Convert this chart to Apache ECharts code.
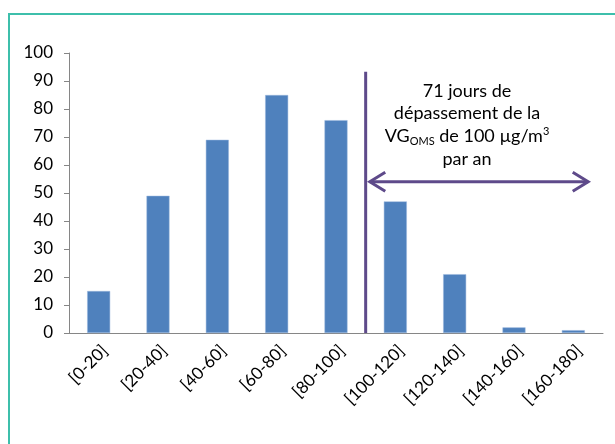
<!DOCTYPE html>
<html>
<head>
<meta charset="utf-8">
<script src="https://cdn.jsdelivr.net/npm/echarts@6/dist/echarts.min.js"></script>
<style>
html,body{margin:0;padding:0;background:#fff;}
#chart{width:615px;height:444px;}
</style>
</head>
<body>
<div id="chart"></div>
<script>
// ---- data ----
const categories = ['[0-20]','[20-40]','[40-60]','[60-80]','[80-100]','[100-120]','[120-140]','[140-160]','[160-180]'];
const days = [15, 49, 69, 85, 76, 47, 21, 2, 1];
const yTicks = [0, 100, 10]; // min, max, interval
// annotation (in category-slot units on a helper axis, and y values)
const thresholdSlot = 5;      // boundary between [80-100] and [100-120]
const thresholdTop = 93.3;
const arrowY = 54;
const arrowFrom = 5.07;
const arrowTo = 8.75;
const annotationLines = ['71 jours de', 'dépassement de la', 'VG', 'OMS', ' de 100 µg/m', '3', 'par an'];

const font = 'Lato, "Liberation Sans", sans-serif';
const purple = '#5E4A8A';
const hx = 0.26, hy = 3.4; // arrow head size in axis units

const chart = echarts.init(document.getElementById('chart'), null, {renderer: 'canvas'});
chart.setOption({
  animation: false,
  textStyle: {fontFamily: font},
  grid: {left: 69, right: 12, top: 53, bottom: 111, containLabel: false},
  xAxis: [{
    type: 'category',
    data: categories,
    axisLine: {lineStyle: {color: '#868686', width: 1}},
    axisTick: {length: 5, lineStyle: {color: '#868686'}},
    axisLabel: {rotate: 45, fontSize: 17, color: '#000', fontFamily: font, margin: 9, interval: 0, verticalAlign: 'top'}
  }, {
    type: 'value', min: 0, max: categories.length, show: false
  }],
  yAxis: {
    type: 'value', min: yTicks[0], max: yTicks[1], interval: yTicks[2],
    axisLine: {show: true, lineStyle: {color: '#868686', width: 1}},
    axisTick: {show: true, length: 5, lineStyle: {color: '#868686'}},
    splitLine: {show: false},
    axisLabel: {fontSize: 17, color: '#000', fontFamily: font, margin: 16}
  },
  series: [{
    type: 'bar',
    data: days,
    barWidth: 23,
    itemStyle: {color: '#4F81BD', borderColor: '#9DB9DE', borderWidth: 0.5}
  }, {
    type: 'line', xAxisIndex: 1, symbol: 'none', clip: false, z: 5,
    lineStyle: {color: purple, width: 3},
    data: [[thresholdSlot, 0], [thresholdSlot, thresholdTop]]
  }, {
    type: 'line', xAxisIndex: 1, symbol: 'none', clip: false, z: 5,
    lineStyle: {color: purple, width: 3},
    data: [[arrowFrom, arrowY], [arrowTo, arrowY]]
  }, {
    type: 'line', xAxisIndex: 1, symbol: 'none', clip: false, z: 5,
    lineStyle: {color: purple, width: 3, join: 'miter'},
    data: [[arrowFrom + hx, arrowY + hy], [arrowFrom, arrowY], [arrowFrom + hx, arrowY - hy]]
  }, {
    type: 'line', xAxisIndex: 1, symbol: 'none', clip: false, z: 5,
    lineStyle: {color: purple, width: 3, join: 'miter'},
    data: [[arrowTo - hx, arrowY + hy], [arrowTo, arrowY], [arrowTo - hx, arrowY - hy]]
  }],
  graphic: [{
    type: 'rect', silent: true, z: 0,
    shape: {x: 9, y: 14, width: 640, height: 460},
    style: {fill: 'none', stroke: '#3DBFAB', lineWidth: 2}
  }, {
    type: 'text', silent: true, x: 467, y: 80, z: 10,
    style: {
      text: annotationLines[0] + '\n' + annotationLines[1] + '\n' +
            '{n|' + annotationLines[2] + '}{sub|' + annotationLines[3] + '}{n|' + annotationLines[4] + '}{sup|' + annotationLines[5] + '}\n' +
            annotationLines[6],
      align: 'center',
      verticalAlign: 'top',
      fontFamily: font,
      fontSize: 18,
      lineHeight: 22,
      fill: '#000',
      rich: {
        n: {fontSize: 18, fontFamily: font, lineHeight: 24, fill: '#000'},
        sub: {fontSize: 11, fontFamily: font, lineHeight: 11, padding: [11, 0, 0, 0], fill: '#000'},
        sup: {fontSize: 11, fontFamily: font, lineHeight: 11, padding: [0, 0, 9, 0], fill: '#000'}
      }
    }
  }]
});
</script>
</body>
</html>
